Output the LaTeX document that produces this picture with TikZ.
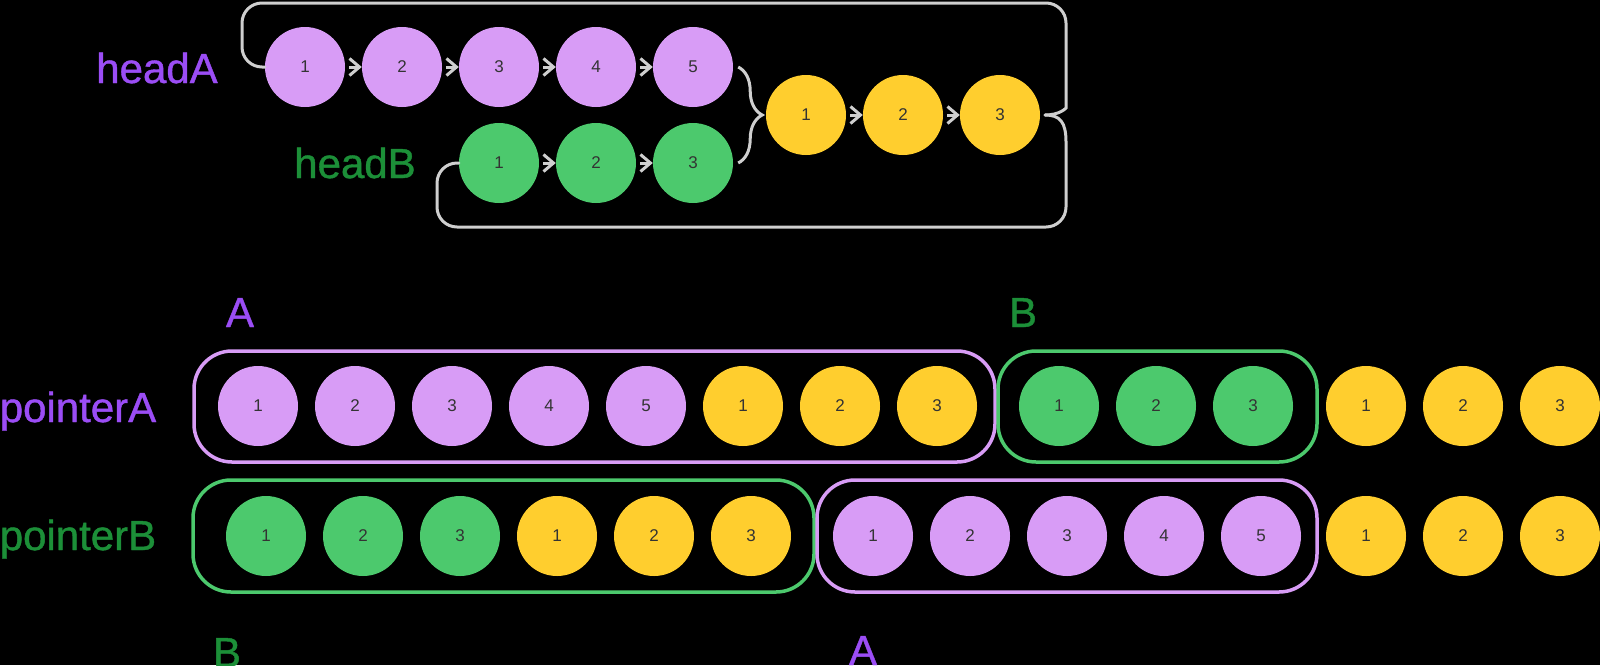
\documentclass[tikz,border=0pt]{standalone}
\usepackage{fontspec}
\setmainfont{Liberation Sans}
\newfontfamily\headfont[FakeBold = 1]{Liberation Sans}
\usetikzlibrary{arrows.meta, decorations.pathreplacing}
\definecolor{lilac}{HTML}{D89CF6}
\definecolor{mint}{HTML}{4CC96D}
\definecolor{sun}{HTML}{FFCE2E}
\definecolor{headpurple}{HTML}{9B4DF5}
\definecolor{headgreen}{HTML}{1C8F38}
\definecolor{wire}{HTML}{CFCFCF}
\begin{document}
\begin{tikzpicture}[x = 1pt, y = -1pt,
        ball/.style = {circle, minimum size = 80pt, inner sep = 0pt, text = black!80, font = \fontsize{17}{20}\selectfont},
        lbl/.style = {anchor = base, inner sep = 0pt, font = \headfont\fontsize{42}{50}\selectfont},
        chev/.style = {wire, line width = 3pt, shorten <= 4pt, -{Straight Barb[length = 10pt, width = 17pt]}},
        wirepath/.style = {wire, line width = 3pt, line cap = round},
        box/.style = {line width = 3.5pt, rounded corners = 38pt}]
    \fill [black] (0, 0) rectangle (1600, 665);
    \useasboundingbox (0, 0) rectangle (1600, 665);
    \foreach \x [count = \i] in {305, 402, 499, 596, 693} \node [ball, fill = lilac] (a\i) at (\x, 67) {\i};
    \foreach \x [count = \i] in {499, 596, 693} \node [ball, fill = mint] (b\i) at (\x, 163) {\i};
    \foreach \x [count = \i] in {806, 903, 1000} \node [ball, fill = sun] (c\i) at (\x, 115) {\i};
    \foreach \i/\j in {1/2, 2/3, 3/4, 4/5} \draw [chev] (a\i) -- (a\j);
    \foreach \i/\j in {1/2, 2/3} \draw [chev] (b\i) -- (b\j);
    \foreach \i/\j in {1/2, 2/3} \draw [chev] (c\i) -- (c\j);
    \draw [wire, line width = 3pt, decorate, decoration = {brace, amplitude = 24pt}] ([xshift = 5pt]a5.east) -- ([xshift = 5pt]b3.east);
    \coordinate (lt) at (242, 3);
    \coordinate (rt) at (1066, 88);
    \coordinate (tip) at (1045, 115);
    \coordinate (rb) at (1066, 142);
    \coordinate (lb) at (437, 227);
    \draw [wirepath] (a1.west) [rounded corners = 20pt] -| (lt) -| (rt) [sharp corners] .. controls (1066, 108) and (1060, 115) .. (tip);
    \draw [wirepath] (tip) .. controls (1060, 115) and (1066, 122) .. (rb) [rounded corners = 20pt] |- (lb) |- (b1.west);
    \node [lbl, text = headpurple] (headA) at (157, 83) {headA};
    \node [lbl, text = headgreen] (headB) at (355, 178) {headB};
    \draw [box, lilac] (194, 351) rectangle (995, 462);
    \draw [box, mint] (998, 351) rectangle (1317, 462);
    \draw [box, mint] (193, 480) rectangle (814, 592);
    \draw [box, lilac] (817, 480) rectangle (1317, 592);
    \foreach \x/\c/\t [count = \i] in {258/lilac/1, 355/lilac/2, 452/lilac/3, 549/lilac/4, 646/lilac/5, 743/sun/1, 840/sun/2, 937/sun/3, 1059/mint/1, 1156/mint/2, 1253/mint/3, 1366/sun/1, 1463/sun/2, 1560/sun/3}
        \node [ball, fill = \c] (pa\i) at (\x, 406) {\t};
    \foreach \x/\c/\t [count = \i] in {266/mint/1, 363/mint/2, 460/mint/3, 557/sun/1, 654/sun/2, 751/sun/3, 873/lilac/1, 970/lilac/2, 1067/lilac/3, 1164/lilac/4, 1261/lilac/5, 1366/sun/1, 1463/sun/2, 1560/sun/3}
        \node [ball, fill = \c] (pb\i) at (\x, 536) {\t};
    \node [lbl, text = headpurple] (pointerA) at (78, 422) {pointerA};
    \node [lbl, text = headgreen] (pointerB) at (78, 550) {pointerB};
    \node [lbl, text = headpurple] (topA) at (240, 327) {A};
    \node [lbl, text = headgreen] (topB) at (1023, 327) {B};
    \node [lbl, text = headgreen] (botB) at (227, 667) {B};
    \node [lbl, text = headpurple] (botA) at (863, 665) {A};
\end{tikzpicture}
\end{document}
